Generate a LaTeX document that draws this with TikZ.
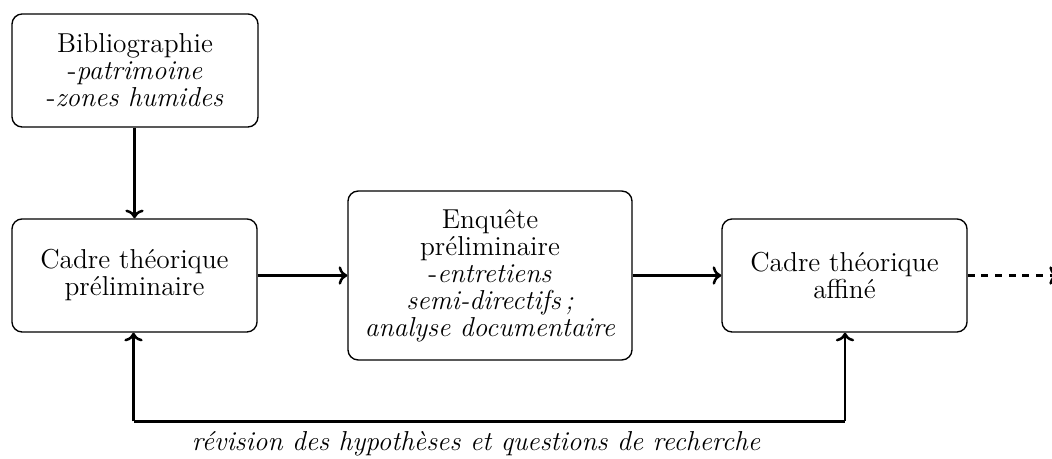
\documentclass[tikz,border=0pt]{standalone}
\usetikzlibrary{arrows.meta}
\begin{document}
\begin{tikzpicture}[x=0.4386pt,y=-0.4386pt,
  box/.style={draw,rounded corners=4.5pt,line width=0.6pt,align=center,inner sep=0pt,
    font=\fontsize{12}{11.85}\selectfont},
  flow/.style={-{Computer Modern Rightarrow[length=3.8pt,width=8pt]},line width=1.1pt},
  note/.style={font=\fontsize{12}{11.85}\selectfont\itshape}]
\useasboundingbox (0,0) rectangle (1052,459);
\node[box,minimum width=107.9pt,minimum height=49.6pt] (biblio) at (135,70.5)
  {Bibliographie\\-\textit{patrimoine}\\-\textit{zones humides}};
\node[box,minimum width=107.5pt,minimum height=49.6pt] (cadre) at (134.5,275.5)
  {Cadre théorique\\préliminaire};
\node[box,minimum width=124.6pt,minimum height=74.1pt] (enq) at (490,275.5)
  {Enquête\\préliminaire\\-\textit{entretiens}\\\textit{semi-directifs\,;}\\\textit{analyse documentaire}};
\node[box,minimum width=107.5pt,minimum height=49.6pt] (aff) at (844.5,275.5)
  {Cadre théorique\\affiné};
\coordinate (out) at (1058,275.5);
\coordinate (bl) at (133.5,421.5);
\coordinate (br) at (845,421.5);
\draw[flow] (biblio.south -| cadre.north) -- (cadre.north);
\draw[flow] (cadre) -- (enq);
\draw[flow] (enq) -- (aff);
\draw[flow,dashed] (aff) -- (out);
\draw[line width=1.1pt] (bl) -- (br);
\draw[flow] (bl) -- (bl |- cadre.south);
\draw[flow] (br) -- (br |- aff.south);
\node[note] (lbl) at (476,444) {révision des hypothèses et questions de recherche};
\end{tikzpicture}
\end{document}
